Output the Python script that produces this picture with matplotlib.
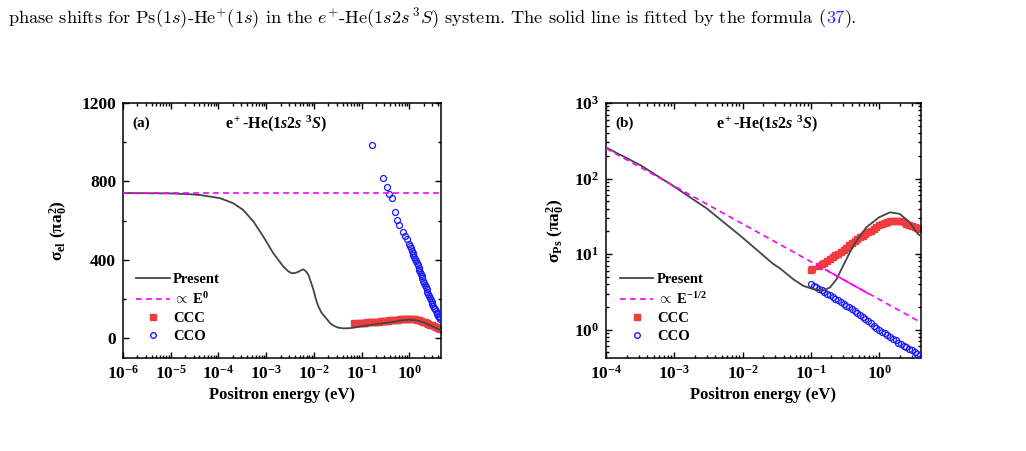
import numpy as np
import matplotlib
matplotlib.use("Agg")
import matplotlib.pyplot as plt
from matplotlib.ticker import LogLocator, NullFormatter, MultipleLocator
from matplotlib.lines import Line2D

# ---- data ----
# panel (a): elastic cross section
present_a_E = [1e-6, 1e-5, 2.5e-5, 4.1e-5, 1.07e-4, 2e-4, 3.3e-4, 5.4e-4, 8.7e-4,
               1.41e-3, 2.29e-3, 2.9e-3, 3.45e-3, 4.1e-3, 4.8e-3, 5.4e-3, 6.0e-3,
               6.8e-3, 7.7e-3, 8.7e-3, 9.8e-3, 1.1e-2, 1.25e-2, 1.45e-2, 1.7e-2,
               2.2e-2, 2.57e-2, 3.2e-2, 4.2e-2, 5.5e-2, 7e-2, 0.1, 0.2, 0.4, 0.7,
               1.0, 1.4, 2.0, 2.8, 3.6, 4.6]
present_a_sig = [741, 739, 735, 731, 715, 690, 655, 596, 519,
                 434, 366, 342, 332, 334, 340, 348, 352,
                 342, 323, 285, 247, 200, 161, 130, 110,
                 77, 65, 55, 51, 52, 55, 62, 72, 82, 92,
                 95, 92, 82, 66, 53, 42]
flat_a_E = [1e-6, 4.6]
flat_a_sig = [741, 741]

ccc_a_E = [0.068, 0.083, 0.091, 0.100, 0.110, 0.120, 0.132, 0.145, 0.158, 0.174,
           0.191, 0.209, 0.229, 0.251, 0.275, 0.302, 0.331, 0.363, 0.398, 0.437,
           0.479, 0.525, 0.575, 0.631, 0.692, 0.759, 0.832, 0.912, 1.00, 1.10,
           1.20, 1.32, 1.45, 1.58, 1.74, 1.91, 2.09, 2.29, 2.51, 2.75,
           3.02, 3.31, 3.63, 3.98, 4.37]
ccc_a_sig = [77, 78, 79, 79, 80, 80, 81, 82, 82, 83,
             84, 85, 86, 87, 88, 89, 90, 91, 92, 93,
             94, 95, 96, 97, 98, 99, 100, 101, 101, 100,
             100, 98, 96, 93, 90, 86, 82, 78, 74, 70,
             66, 62, 58, 54, 50]

cco_a_E = [0.164, 0.274, 0.339, 0.383, 0.443, 0.504, 0.563, 0.62, 0.73, 0.816,
           0.91, 1.0, 1.04, 1.08, 1.12, 1.17, 1.22, 1.27, 1.32, 1.38,
           1.44, 1.5, 1.56, 1.62, 1.68, 1.74, 1.8, 1.87, 1.95, 2.03,
           2.11, 2.2, 2.29, 2.39, 2.48, 2.58, 2.69, 2.8, 2.91, 3.03,
           3.16, 3.3, 3.43, 3.57, 3.72, 3.88, 4.07, 4.27, 4.45]
cco_a_sig = [984, 820, 771, 736, 715, 642, 604, 579, 541, 523,
             506, 480, 470, 460, 448, 437, 427, 417, 406, 395,
             385, 374, 361, 349, 339, 329, 318, 307, 294, 281,
             271, 261, 250, 239, 228, 217, 206, 196, 186, 176,
             166, 157, 148, 140, 131, 123, 115, 107, 100]

# panel (b): Ps formation cross section
present_b_E = [1e-4, 3.2e-4, 1e-3, 3e-3, 1e-2, 2.8e-2, 3.5e-2, 5.5e-2, 7.7e-2, 0.108,
               0.151, 0.19, 0.238, 0.297, 0.372, 0.466, 0.65, 1.0, 1.44, 2.0,
               2.8, 3.7, 4.0]
present_b_sig = [258, 150, 78, 40, 16.5, 7.4, 6.5, 4.65, 3.8, 3.43,
                 3.3, 3.6, 4.65, 7.0, 10.5, 15.0, 22.6, 30.7, 35.7, 34.0,
                 26.3, 18.4, 17.5]
fit_b_E = [1e-4, 4.1]
fit_b_sig = [251, 1.24]
fit_b_solid_E = [0.17, 0.69]
fit_b_solid_sig = [6.1, 3.0]

grid_b_E = [0.100, 0.110, 0.120, 0.132, 0.145, 0.158, 0.174, 0.191, 0.209, 0.229,
            0.251, 0.275, 0.302, 0.331, 0.363, 0.398, 0.437, 0.479, 0.525, 0.575,
            0.631, 0.692, 0.759, 0.832, 0.912, 1.00, 1.10, 1.20, 1.32, 1.45,
            1.58, 1.74, 1.91, 2.09, 2.29, 2.51, 2.75, 3.02, 3.31, 3.63, 3.98]
cco_b_sig = [4.0, 3.8, 3.65, 3.45, 3.3, 3.15, 2.97, 2.85, 2.68, 2.55,
             2.45, 2.33, 2.2, 2.08, 1.97, 1.86, 1.76, 1.66, 1.55, 1.46,
             1.37, 1.29, 1.21, 1.13, 1.06, 1.0, 0.94, 0.89, 0.85, 0.80,
             0.76, 0.72, 0.67, 0.64, 0.61, 0.58, 0.55, 0.53, 0.50, 0.48, 0.46]
ccc_b_E = [0.100, 0.104, 0.132, 0.145, 0.158, 0.174, 0.191, 0.209, 0.229,
           0.251, 0.275, 0.302, 0.331, 0.363, 0.398, 0.437, 0.479, 0.525, 0.575,
           0.631, 0.692, 0.759, 0.832, 0.912, 1.00, 1.10, 1.20, 1.32, 1.45,
           1.58, 1.74, 1.91, 2.09, 2.29, 2.51, 2.75, 3.02, 3.31, 3.63, 3.98]
ccc_b_sig = [6.1, 6.3, 7.0, 7.3, 7.7, 8.0, 8.5, 9.0, 9.6,
             10.1, 10.7, 11.4, 12.2, 13.0, 13.8, 14.7, 15.6, 16.6, 17.5,
             18.4, 19.4, 20.4, 21.6, 22.8, 23.9, 24.9, 25.7, 26.4, 27.0,
             27.5, 27.7, 27.5, 27.0, 26.2, 25.2, 24.4, 23.7, 23.0, 22.3, 21.5]

# ---- style ----
plt.rcParams['font.family'] = ['Liberation Serif', 'DejaVu Serif']
plt.rcParams['font.weight'] = 'bold'
plt.rcParams['axes.labelweight'] = 'bold'
plt.rcParams['mathtext.fontset'] = 'custom'
plt.rcParams['mathtext.rm'] = 'Liberation Serif:bold'
plt.rcParams['mathtext.bf'] = 'Liberation Serif:bold'
plt.rcParams['mathtext.it'] = 'Liberation Serif:italic:bold'
plt.rcParams['axes.linewidth'] = 1.1

GRAY = '#454545'
MAG = '#ff00ff'
RED = '#f03c3c'
BLUE = '#1a1aff'

fig = plt.figure(figsize=(10.26, 4.51), dpi=100)
ax_a = fig.add_axes([123 / 1026, 1 - 358 / 451, 318 / 1026, 255 / 451])
ax_b = fig.add_axes([606 / 1026, 1 - 358 / 451, 315 / 1026, 255 / 451])


def style_axis(ax):
    ax.tick_params(which='both', direction='in', top=True, right=True,
                   labelsize=12.5, width=1.0)
    ax.tick_params(which='major', length=4.5, pad=5)
    ax.tick_params(which='minor', length=2.3)
    ax.xaxis.set_major_locator(LogLocator(base=10, numticks=20))
    ax.xaxis.set_minor_locator(LogLocator(base=10, subs=np.arange(2, 10), numticks=100))
    ax.xaxis.set_minor_formatter(NullFormatter())
    ax.set_xlabel('Positron energy (eV)', fontsize=12, labelpad=3)


def add_legend(ax, fit_label, x0, y0):
    handles = [
        Line2D([], [], color=GRAY, lw=1.3),
        Line2D([], [], color=MAG, lw=1.2, ls=(0, (3.5, 2.5))),
        Line2D([], [], color=RED, marker='s', ls='none', ms=4),
        Line2D([], [], color=BLUE, marker='o', ls='none', ms=4, mfc='none', mew=1.0),
    ]
    labels = ['Present', fit_label, 'CCC', 'CCO']
    ax.legend(handles, labels, loc='lower left', bbox_to_anchor=(x0, y0),
              frameon=False, fontsize=10.5, handlelength=2.3, handletextpad=0.25,
              labelspacing=0.33, borderpad=0, borderaxespad=0)


# panel (a)
ax_a.set_xscale('log')
ax_a.plot(ccc_a_E, ccc_a_sig, 's', color=RED, ms=4.5, mec=RED, zorder=2)
ax_a.plot(cco_a_E, cco_a_sig, 'o', color=BLUE, ms=4.3, mfc='none', mew=0.9, zorder=3)
ax_a.plot(present_a_E, present_a_sig, color=GRAY, lw=1.3, zorder=4)
ax_a.plot(flat_a_E, flat_a_sig, color=MAG, lw=1.2, ls=(0, (3.5, 2.5)), zorder=5)
ax_a.set_xlim(1e-6, 4.6)
ax_a.set_ylim(-100, 1200)
ax_a.yaxis.set_major_locator(MultipleLocator(400))
ax_a.yaxis.set_minor_locator(MultipleLocator(200))
style_axis(ax_a)
ax_a.set_ylabel('σ$_{\\rm el}$ (πa$_0^2$)', fontsize=12.5, labelpad=8)
ax_a.text(0.031, 0.92, '(a)', transform=ax_a.transAxes, fontsize=11, va='center')
ax_a.text(0.48, 0.92, 'e$^+$-He(1$s$2$s$ $^3S$)', transform=ax_a.transAxes,
          fontsize=11.5, va='center', ha='center')
add_legend(ax_a, '$\\propto$ E$^0$', 0.041, 0.06)

# panel (b)
ax_b.set_xscale('log')
ax_b.set_yscale('log')
ax_b.plot(ccc_b_E, ccc_b_sig, 's', color=RED, ms=4.5, mec=RED, zorder=2)
ax_b.plot(grid_b_E, cco_b_sig, 'o', color=BLUE, ms=4.3, mfc='none', mew=0.9, zorder=3)
ax_b.plot(present_b_E, present_b_sig, color=GRAY, lw=1.3, zorder=4)
ax_b.plot(fit_b_E, fit_b_sig, color=MAG, lw=1.2, ls=(0, (3.5, 2.5)), zorder=5)
ax_b.plot(fit_b_solid_E, fit_b_solid_sig, color=MAG, lw=1.2, zorder=5)
ax_b.set_xlim(1e-4, 4.1)
ax_b.set_ylim(0.42, 1000)
ax_b.yaxis.set_major_locator(LogLocator(base=10, numticks=20))
ax_b.yaxis.set_minor_locator(LogLocator(base=10, subs=np.arange(2, 10), numticks=100))
ax_b.yaxis.set_minor_formatter(NullFormatter())
style_axis(ax_b)
ax_b.set_ylabel('σ$_{\\rm Ps}$ (πa$_0^2$)', fontsize=12.5, labelpad=5)
ax_b.text(0.029, 0.92, '(b)', transform=ax_b.transAxes, fontsize=11, va='center')
ax_b.text(0.51, 0.92, 'e$^+$-He(1$s$2$s$ $^3S$)', transform=ax_b.transAxes,
          fontsize=11.5, va='center', ha='center')
add_legend(ax_b, '$\\propto$ E$^{-1/2}$', 0.044, 0.06)

# caption line at the top
cap_y = 1 - 18 / 451
cap_kw = dict(family='cmr10', math_fontfamily='cm', fontsize=13.2,
              fontweight='normal', va='center')
t1 = fig.text(8 / 1026, cap_y,
              'phase shifts for Ps(1$s$)-He$^{+}$(1$s$) in the $e^{+}$-He(1$s$2$s\\,^3S$) '
              'system. The solid line is fitted by the formula (', **cap_kw)
fig.canvas.draw()
r = fig.canvas.get_renderer()
bb = t1.get_window_extent(r)
t2 = fig.text(bb.x1 / 1026, cap_y, '37', color='#2a2aff', **cap_kw)
bb2 = t2.get_window_extent(r)
fig.text(bb2.x1 / 1026, cap_y, ').', **cap_kw)

fig.savefig('out.png', dpi=100)
